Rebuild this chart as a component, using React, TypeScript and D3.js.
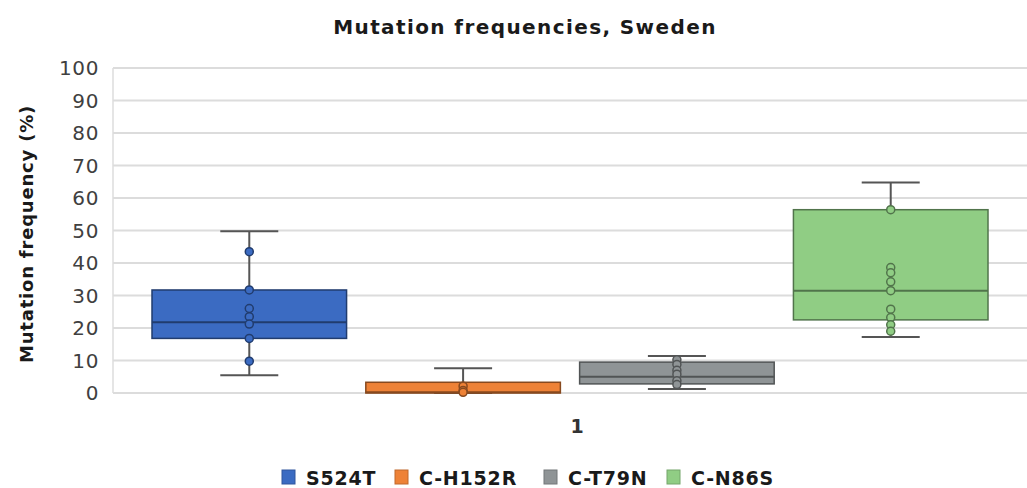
import React from "react";
import * as d3 from "d3";

const series = ["S524T", "C-H152R", "C-T79N", "C-N86S"];
const colors = ["#3b6bc2", "#ee8237", "#8f9496", "#90cd84"];
const whiskerLow = [5.5, 0, 1.2, 17.2];
const q1 = [16.8, 0, 2.8, 22.5];
const median = [21.8, 0.2, 5, 31.5];
const q3 = [31.7, 3.3, 9.5, 56.4];
const whiskerHigh = [49.8, 7.6, 11.4, 64.8];
const points = [
  [43.5, 31.7, 26, 23.5, 21.2, 16.8, 9.8],
  [2.1, 0.8, 0.2],
  [10.2, 8.8, 7, 5.8, 3.8, 2.6],
  [56.4, 38.6, 37, 34.2, 31.5, 25.8, 23.2, 21, 19],
];
const yTicks = [0, 10, 20, 30, 40, 50, 60, 70, 80, 90, 100];
const categories = ["1"];

const W = 1027;
const H = 488;
const FONT = "'DejaVu Sans', sans-serif";

export default function App() {
  const y = d3.scaleLinear().domain([0, 100]).range([393, 68]);
  const x = d3.scaleBand().domain(series).range([152, 988]).paddingInner(0.09).paddingOuter(0);
  const capW = 58;

  const legendX = [282, 395, 544, 667];

  return (
    <svg width={W} height={H} style={{ position: "absolute", left: 0, top: 0, background: "#fff" }} fontFamily={FONT}>
      <rect x={0} y={0} width={W} height={H} fill="#fff" />
      <text x={525} y={34} textAnchor="middle" fontSize={20} fontWeight="bold" letterSpacing={1.4} fill="#1a1a1a">
        Mutation frequencies, Sweden
      </text>
      {yTicks.map((t) => (
        <g key={t}>
          <line x1={113} x2={1027} y1={y(t)} y2={y(t)} stroke="#dcdcdc" strokeWidth={2} />
          <text x={99} y={y(t)} dy="0.37em" textAnchor="end" fontSize={20} letterSpacing={0.6} fill="#404040">
            {t}
          </text>
        </g>
      ))}
      <line x1={113} x2={113} y1={y(100)} y2={y(0)} stroke="#dcdcdc" strokeWidth={1.5} />
      <text
        transform={`translate(33,${234}) rotate(-90)`}
        textAnchor="middle"
        fontSize={18}
        fontWeight="bold"
        letterSpacing={0.8}
        fill="#1a1a1a"
      >
        Mutation frequency (%)
      </text>
      {series.map((s, i) => {
        const x0 = x(s)!;
        const bw = x.bandwidth();
        const cx = x0 + bw / 2;
        const c = colors[i];
        const dark = d3.color(c)!.darker(1.6).formatHex();
        return (
          <g key={s}>
            <line x1={cx} x2={cx} y1={y(whiskerHigh[i])} y2={y(q3[i])} stroke="#555" strokeWidth={2} />
            <line x1={cx} x2={cx} y1={y(q1[i])} y2={y(whiskerLow[i])} stroke="#555" strokeWidth={2} />
            <line x1={cx - capW / 2} x2={cx + capW / 2} y1={y(whiskerHigh[i])} y2={y(whiskerHigh[i])} stroke="#555" strokeWidth={2} />
            <line x1={cx - capW / 2} x2={cx + capW / 2} y1={y(whiskerLow[i])} y2={y(whiskerLow[i])} stroke="#555" strokeWidth={2} />
            <rect
              x={x0}
              y={y(q3[i])}
              width={bw}
              height={Math.max(1, y(q1[i]) - y(q3[i]))}
              fill={c}
              stroke={dark}
              strokeWidth={1.5}
            />
            <line x1={x0} x2={x0 + bw} y1={y(median[i])} y2={y(median[i])} stroke={dark} strokeWidth={2} />
            {points[i].map((p, j) => (
              <circle key={j} cx={cx} cy={y(p)} r={4} fill={c} stroke={dark} strokeWidth={1.5} />
            ))}
          </g>
        );
      })}
      <text x={577} y={433} textAnchor="middle" fontSize={19} fontWeight="bold" fill="#333">
        {categories[0]}
      </text>
      {series.map((s, i) => (
        <g key={s}>
          <rect x={legendX[i]} y={470} width={13} height={14} fill={colors[i]} stroke={d3.color(colors[i])!.darker(0.6).formatHex()} strokeWidth={1} />
          <text x={legendX[i] + 24} y={485} fontSize={19} fontWeight="bold" letterSpacing={0.8} fill="#1a1a1a">
            {s}
          </text>
        </g>
      ))}
    </svg>
  );
}
